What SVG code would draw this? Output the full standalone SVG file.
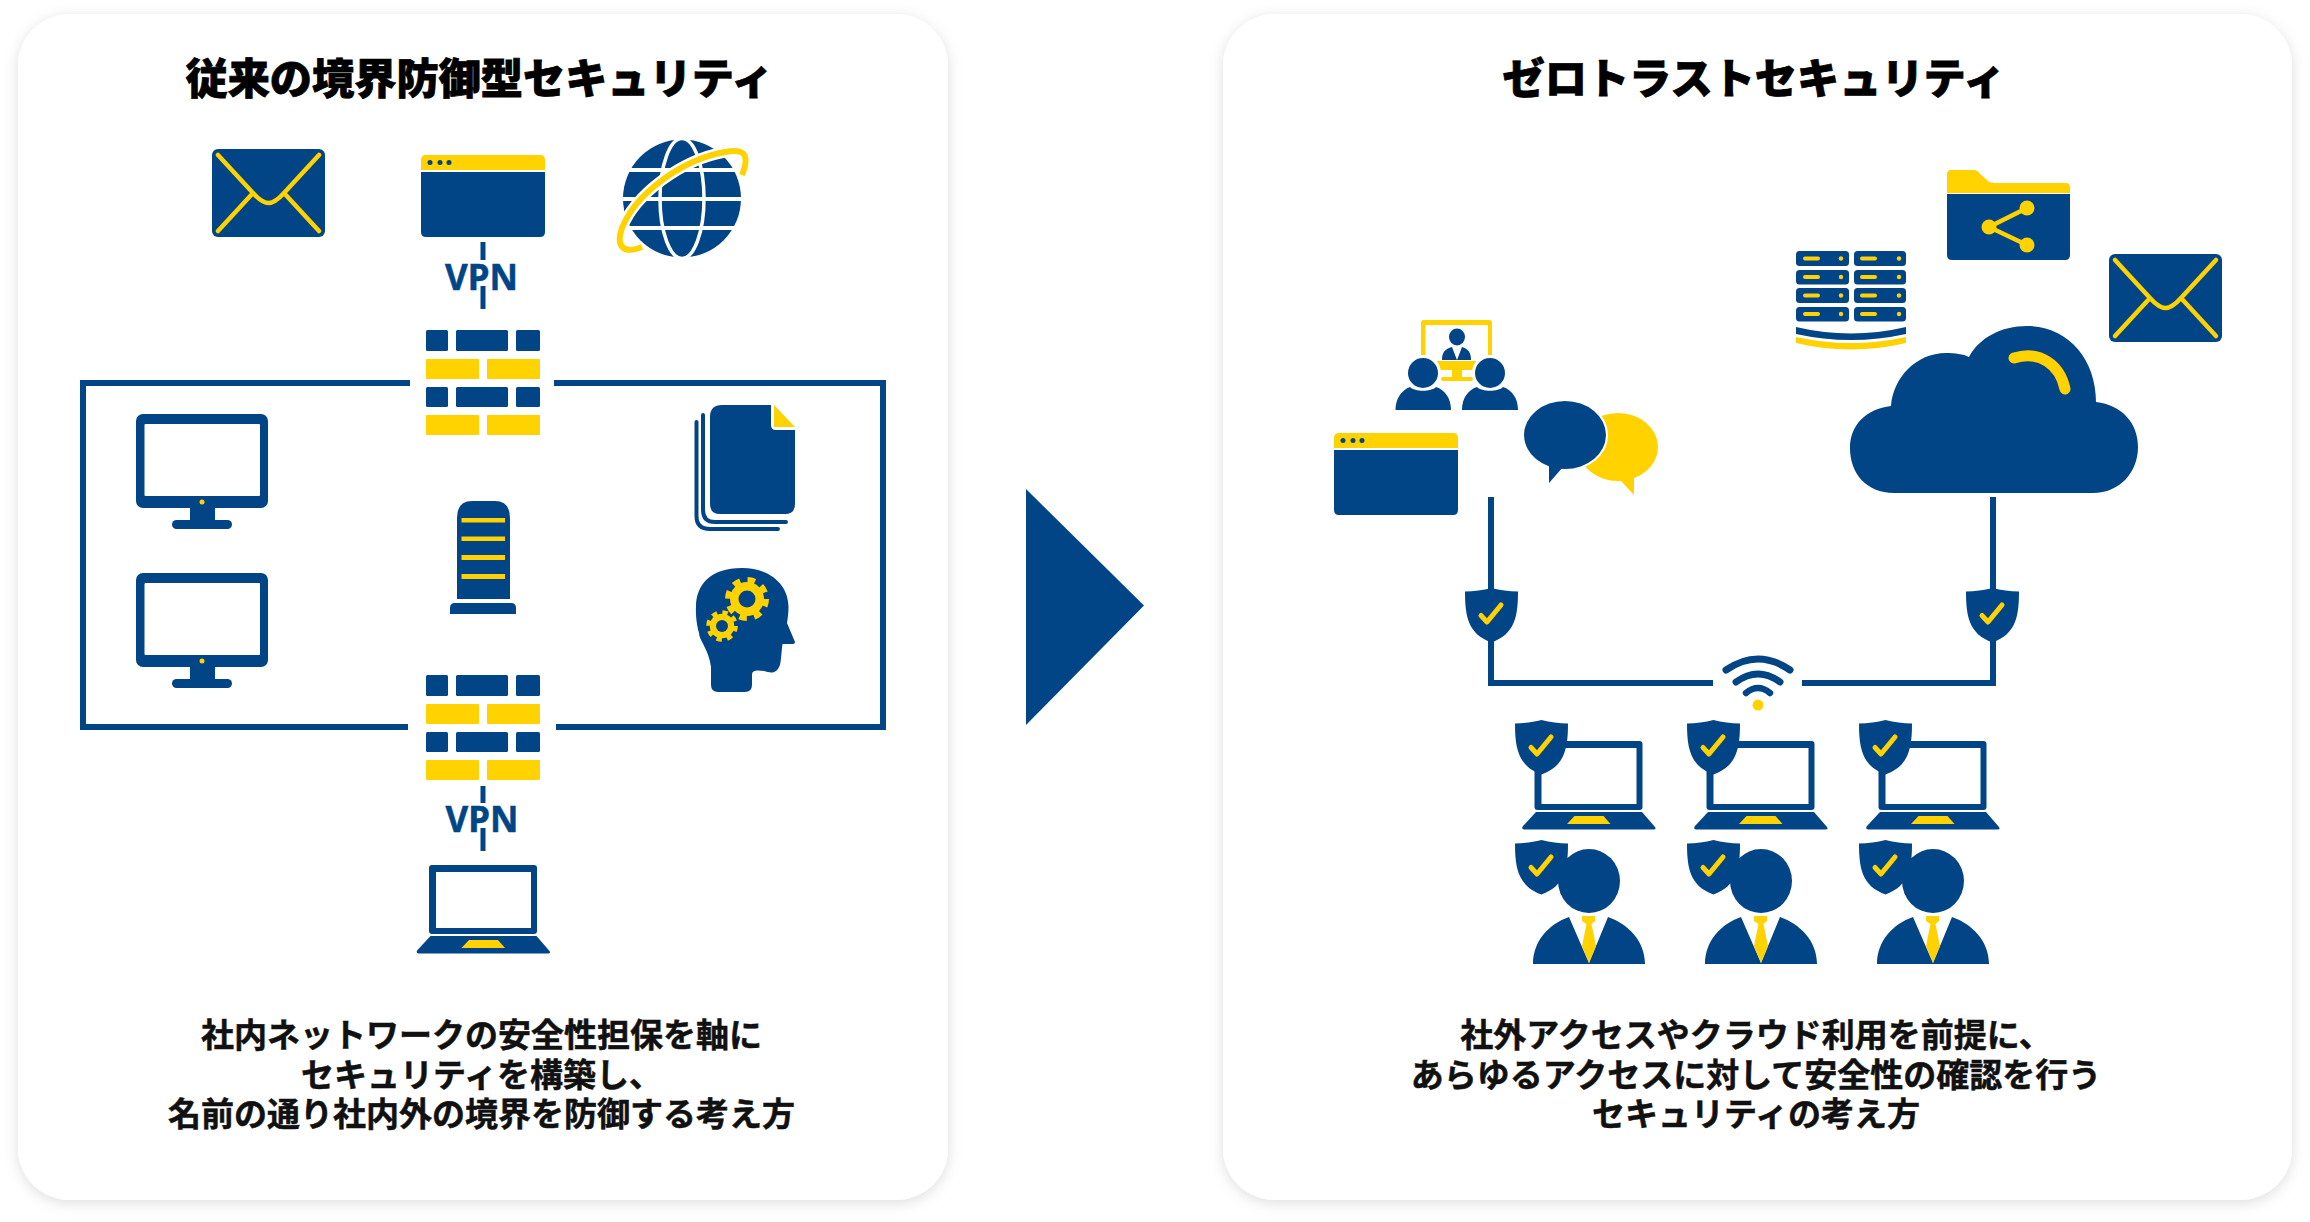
<svg xmlns="http://www.w3.org/2000/svg" width="2310" height="1222" viewBox="0 0 2310 1222">
<style>
.b{fill:#024586}.y{fill:#FFD200}.w{fill:#fff}
.conn{fill:none;stroke:#024586;stroke-width:6}
.thin{stroke-width:5}
.title{font-family:"Noto Sans CJK JP","Noto Sans",sans-serif;font-weight:900;font-size:42.200px;text-anchor:middle;fill:#000;stroke:#000;stroke-width:.8px}
.body{font-family:"Noto Sans CJK JP","Noto Sans",sans-serif;font-weight:700;font-size:33px;text-anchor:middle;fill:#111;stroke:#111;stroke-width:.5px}
.vpn{font-family:"Noto Sans","Liberation Sans",sans-serif;font-weight:700;font-size:35px;text-anchor:middle;fill:#024586;stroke:#024586;stroke-width:.5px}
</style>
<defs>
<filter id="sh" x="-5%" y="-5%" width="110%" height="110%"><feDropShadow dx="0" dy="3" stdDeviation="7" flood-color="#000" flood-opacity="0.13"/></filter>
<symbol id="envelope" overflow="visible"><rect width="113" height="88" rx="6" class="b"/><path d="M6 6L41 44M41 44Q50 54 56.500 54Q63 54 72 44L107 6M41 44L6 82M72 44L107 82" fill="none" stroke="#FFD200" stroke-width="4.500" stroke-linecap="round" stroke-linejoin="round"/></symbol>
<symbol id="browser" overflow="visible"><path class="y" d="M0 15V5Q0 0 5 0H119Q124 0 124 5V15Z"/><path class="b" d="M0 17H124V77Q124 82 119 82H5Q0 82 0 77Z"/><circle class="b" cx="9" cy="7.500" r="2.500"/><circle class="b" cx="19" cy="7.500" r="2.500"/><circle class="b" cx="28" cy="7.500" r="2.500"/></symbol>
<symbol id="firewall" overflow="visible"><rect class="b" width="22" height="21" rx="1.500"/><rect class="b" x="30" width="52" height="21" rx="1.500"/><rect class="b" x="90" width="24" height="21" rx="1.500"/><rect class="y" y="29" width="53" height="20" rx="1"/><rect class="y" x="61" y="29" width="53" height="20" rx="1"/><rect class="b" y="57" width="22" height="20" rx="1.500"/><rect class="b" x="30" y="57" width="52" height="20" rx="1.500"/><rect class="b" x="90" y="57" width="24" height="20" rx="1.500"/><rect class="y" y="85" width="53" height="20" rx="1"/><rect class="y" x="61" y="85" width="53" height="20" rx="1"/></symbol>
<symbol id="monitor" overflow="visible"><rect class="b" width="132" height="94" rx="7"/><rect class="w" x="8.500" y="10" width="115.500" height="72" rx="1"/><circle class="y" cx="66" cy="88" r="2.500"/><rect class="b" x="54" y="94" width="25" height="13"/><rect class="b" x="36" y="106" width="60" height="9" rx="4.500"/></symbol>
<symbol id="laptop" overflow="visible"><rect class="b" x="12.500" width="108" height="69" rx="3"/><rect class="w" x="19.500" y="7" width="95" height="56"/><path class="b" d="M14 71H120L133 86Q134.500 88 132 88.500H2Q-1 88 1 85Z"/><path class="y" d="M52.500 75H81.500L88.500 83H45Z"/></symbol>
<symbol id="shield" overflow="visible"><path class="b" d="M0 3.500C9 3.500 18 2 26.500 0C35 2 44 3.500 53 3.500C53 28 50 46 26.500 54.500C3 46 0 28 0 3.500Z"/><path d="M16 27.500L22 34L36 17" fill="none" stroke="#FFD200" stroke-width="5" stroke-linecap="round" stroke-linejoin="round"/></symbol>
<symbol id="person" overflow="visible"><ellipse class="b" cx="56" cy="-36" rx="31" ry="32"/><path class="b" d="M0 47C0 24 16 7 36 0L56 46L75 0C95 7 112 24 112 47Z"/><path class="y" d="M49 -1H62V4L58.500 7L63 29L56 46L49 29L53.500 7L49 4Z"/></symbol>
<symbol id="gear" overflow="visible"><circle class="y" r="17"/><circle r="19" fill="none" stroke="#FFD200" stroke-width="6" stroke-dasharray="7.500 7.423"/></symbol>
</defs>

<g id="panels">
<rect x="18" y="14" width="930" height="1186" rx="52" fill="#fff" filter="url(#sh)"/>
<rect x="1223" y="14" width="1069" height="1186" rx="52" fill="#fff" filter="url(#sh)"/>
</g>

<g id="connectors">
<path class="conn" d="M410 383H83V727H408"/>
<path class="conn" d="M554 383H883V727H556"/>
<path class="conn thin" d="M483 242V260M483 286V309"/>
<path class="conn thin" d="M483 786V803M483 828V851"/>
<path class="conn" d="M1491 497V683H1713"/>
<path class="conn" d="M1993 497V683H1802"/>
</g>

<g id="left-title"><text class="title" x="479.500" y="94">従来の境界防御型セキュリティ</text></g>
<g id="right-title"><text class="title" x="1754" y="94">ゼロトラストセキュリティ</text></g>

<g id="mail-left"><use href="#envelope" x="212" y="149"/></g>
<g id="browser-left"><use href="#browser" x="421" y="155"/></g>
<g id="globe">
<circle class="b" cx="682" cy="198.500" r="59"/>
<path d="M621 170H743M621 199H743M621 228H743" stroke="#fff" stroke-width="4" fill="none"/>
<ellipse cx="682" cy="198.500" rx="22" ry="60" fill="none" stroke="#fff" stroke-width="3.500"/>
<path d="M642 247C622 255 616 245 622 228C635 195 680 160 725 152C745 148 750 155 742 175" fill="none" stroke="#fff" stroke-width="11"/>
<path d="M642 247C622 255 616 245 622 228C635 195 680 160 725 152C745 148 750 155 742 175" fill="none" stroke="#FFD200" stroke-width="6"/>
</g>
<g id="vpn-top"><text class="vpn" x="481.500" y="290">VPN</text></g>
<g id="firewall-top"><use href="#firewall" x="426" y="330"/></g>
<g id="monitor-1"><use href="#monitor" x="136" y="414"/></g>
<g id="monitor-2"><use href="#monitor" x="136" y="573"/></g>
<g id="server">
<path class="b" d="M457 599V518Q457 501 472 501H495Q510 501 510 518V599Z"/>
<path class="y" d="M461.500 518H505V522.500H461.500ZM461.500 536.500H505V541H461.500ZM461.500 555H505V560H461.500ZM461.500 574H505V579H461.500Z"/>
<path class="b" d="M450 614V608Q450 603 455 603H511Q516 603 516 608V614Z"/>
</g>
<g id="documents">
<path class="b" d="M710 417Q710 405 722 405H771V425Q771 430 776 430H795V504Q795 514 785 514H720Q710 514 710 504Z"/>
<path class="y" d="M774 405L795 427H774Z"/>
<path d="M703 415V510Q703 522 715 522H786" fill="none" stroke="#024586" stroke-width="4" stroke-linecap="round"/>
<path d="M696.500 422V516Q696.500 529 710 529H778" fill="none" stroke="#024586" stroke-width="4" stroke-linecap="round"/>
</g>
<g id="head">
<path class="b" d="M711 680V667C709 650 699 640 699 633C695 618 696 607 696 607C696 585 710 568 742 568C770 568 788.500 585 788.500 607C788.500 615 787 623 787 623L795 642Q795 644 792 644H782.500C781 655 781 665 779 667C776 674 770 673 764 671C757 670 752 670 752 675V685Q752 692 745 692H718Q711 692 711 685Z"/>
<use href="#gear" x="747" y="599"/><circle class="b" cx="747" cy="599" r="8.500"/>
<use href="#gear" transform="translate(722 626) scale(.72)"/><circle class="b" cx="722" cy="626" r="6"/>
</g>
<g id="firewall-bottom"><use href="#firewall" x="426" y="675"/></g>
<g id="vpn-bottom"><text class="vpn" x="482" y="832">VPN</text></g>
<g id="laptop-left"><use href="#laptop" x="416.500" y="865"/></g>

<g id="left-caption">
<text class="body" x="481.500" y="1047">社内ネットワークの安全性担保を軸に</text>
<text class="body" x="481.500" y="1087">セキュリティを構築し、</text>
<text class="body" x="481.500" y="1126">名前の通り社内外の境界を防御する考え方</text>
</g>

<g id="arrow"><path class="b" d="M1026 489L1144 605.500L1026 725Z"/></g>

<g id="folder">
<path class="y" d="M1947 193V174Q1947 170 1951 170H1973Q1978 170 1980 174L1987 180Q1989 183 1995 183H2066Q2070 183 2070 187V193Z"/>
<path class="b" d="M1947 194H2070V255Q2070 260 2065 260H1952Q1947 260 1947 255Z"/>
<path d="M2027 208L1989 227L2027 245" fill="none" stroke="#FFD200" stroke-width="4.500"/>
<circle class="y" cx="2027" cy="208" r="7.500"/><circle class="y" cx="1989" cy="227" r="7.500"/><circle class="y" cx="2027" cy="245" r="7.500"/>
</g>
<g id="rack">
<g id="rack-units">
<rect class="b" x="1796" y="251" width="53" height="15" rx="3.500"/><rect class="b" x="1854" y="251" width="52" height="15" rx="3.500"/>
<rect class="b" x="1796" y="270" width="53" height="14.500" rx="3.500"/><rect class="b" x="1854" y="270" width="52" height="14.500" rx="3.500"/>
<rect class="b" x="1796" y="288" width="53" height="15" rx="3.500"/><rect class="b" x="1854" y="288" width="52" height="15" rx="3.500"/>
<rect class="b" x="1796" y="307" width="53" height="14.500" rx="3.500"/><rect class="b" x="1854" y="307" width="52" height="14.500" rx="3.500"/>
<rect class="y" x="1803" y="256.500" width="17" height="4" rx="2"/><rect class="y" x="1860" y="256.500" width="17" height="4" rx="2"/>
<rect class="y" x="1803" y="275" width="17" height="4" rx="2"/><rect class="y" x="1860" y="275" width="17" height="4" rx="2"/>
<rect class="y" x="1803" y="293.500" width="17" height="4" rx="2"/><rect class="y" x="1860" y="293.500" width="17" height="4" rx="2"/>
<rect class="y" x="1803" y="312" width="17" height="4" rx="2"/><rect class="y" x="1860" y="312" width="17" height="4" rx="2"/>
<circle class="y" cx="1841" cy="258.500" r="2.200"/><circle class="y" cx="1899" cy="258.500" r="2.200"/>
<circle class="y" cx="1841" cy="277" r="2.200"/><circle class="y" cx="1899" cy="277" r="2.200"/>
<circle class="y" cx="1841" cy="295.500" r="2.200"/><circle class="y" cx="1899" cy="295.500" r="2.200"/>
<circle class="y" cx="1841" cy="314" r="2.200"/><circle class="y" cx="1899" cy="314" r="2.200"/>
</g>
<path class="b" d="M1796 327Q1851 340 1906 327V334Q1851 346 1796 334Z"/>
<path class="y" d="M1796 337Q1851 349 1906 337V343Q1851 356 1796 343Z"/>
</g>
<g id="mail-right"><use href="#envelope" x="2109" y="254"/></g>
<g id="cloud">
<path class="b" d="M1894 493C1866 493 1850 473 1850 448C1850 425 1866 409 1891 406C1893 378 1916 353 1946 353C1955 353 1963 354 1969 357C1979 338 2001 326 2027 326C2067 326 2096 358 2096 402C2122 405 2138 423 2138 447C2138 472 2120 493 2093 493Z"/>
<path d="M2014 358C2040 350 2060 365 2065 389" fill="none" stroke="#FFD200" stroke-width="11" stroke-linecap="round"/>
</g>
<g id="video-meeting">
<path class="y" d="M1421 323Q1421 320 1424 320H1489Q1492 320 1492 323V370H1462V377H1471Q1473 377 1473 379Q1473 381 1471 381H1443Q1441 381 1441 379Q1441 377 1443 377H1452V370H1421Z"/>
<rect class="w" x="1425.500" y="325" width="62.500" height="36"/>
<ellipse class="b" cx="1457" cy="337" rx="8" ry="8.500"/>
<path class="b" d="M1442 360C1442 352 1445 349 1452 347L1457 360L1462 347C1468 349 1471 352 1471 360Z"/>
<ellipse class="b" cx="1423" cy="373" rx="16.500" ry="16.500" stroke="#fff" stroke-width="3"/>
<ellipse class="b" cx="1490" cy="373" rx="16.500" ry="16.500" stroke="#fff" stroke-width="3"/>
<path class="b" d="M1395.500 410C1395.500 398 1402 390 1410 387C1415 392 1431 392 1436 387C1445 390 1451 398 1451 410Z"/>
<path class="b" d="M1462 410C1462 398 1468 390 1477 387C1482 392 1498 392 1503 387C1512 390 1518 398 1518 410Z"/>
</g>
<g id="browser-right"><use href="#browser" x="1334" y="433"/></g>
<g id="chat">
<ellipse class="y" cx="1618" cy="447" rx="40" ry="34"/>
<path class="y" d="M1620 480L1634 495V476Z"/>
<ellipse class="b" cx="1565" cy="435" rx="41" ry="34" stroke="#fff" stroke-width="4" paint-order="stroke"/>
<path class="b" d="M1549 465V483L1563 467Z"/>
</g>
<g id="shield-left"><use href="#shield" x="1465" y="588"/></g>
<g id="shield-right"><use href="#shield" x="1966" y="588"/></g>
<g id="wifi" fill="none" stroke="#024586" stroke-linecap="round">
<path d="M1726 670Q1758 648 1790 670" stroke-width="7"/>
<path d="M1736 682Q1758 666 1780 682" stroke-width="7"/>
<path d="M1746 693Q1758 683 1770 693" stroke-width="6.500"/>
<circle class="y" cx="1758" cy="705" r="5.500" stroke="none"/>
</g>

<g id="laptop-1"><use href="#laptop" x="1522" y="741"/><use href="#shield" x="1515" y="720"/></g>
<g id="laptop-2"><use href="#laptop" x="1694" y="741"/><use href="#shield" x="1687" y="720"/></g>
<g id="laptop-3"><use href="#laptop" x="1866" y="741"/><use href="#shield" x="1859" y="720"/></g>
<g id="user-1"><use href="#person" x="1533" y="917"/><use href="#shield" x="1515" y="840"/></g>
<g id="user-2"><use href="#person" x="1705" y="917"/><use href="#shield" x="1687" y="840"/></g>
<g id="user-3"><use href="#person" x="1877" y="917"/><use href="#shield" x="1859" y="840"/></g>

<g id="right-caption">
<text class="body" x="1756" y="1047">社外アクセスやクラウド利用を前提に、</text>
<text class="body" x="1756" y="1087">あらゆるアクセスに対して安全性の確認を行う</text>
<text class="body" x="1756" y="1126">セキュリティの考え方</text>
</g>
</svg>
